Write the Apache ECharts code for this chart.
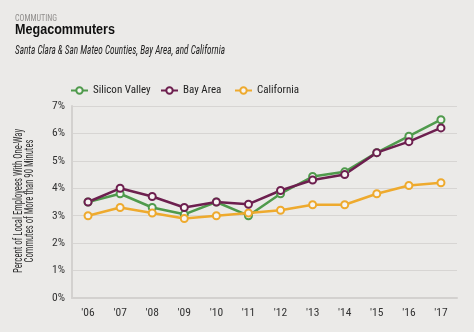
<!DOCTYPE html>
<html>
<head>
<meta charset="utf-8">
<script src="https://cdn.jsdelivr.net/npm/echarts@6/dist/echarts.min.js"></script>
<style>
  html, body { margin: 0; padding: 0; background: #ebeae8; }
  #chart { width: 474px; height: 332px; }
</style>
</head>
<body>
<div id="chart"></div>
<script>
// Share of local employees commuting more than 90 minutes one way (%)
const years = ["'06", "'07", "'08", "'09", "'10", "'11", "'12", "'13", "'14", "'15", "'16", "'17"];
const siliconValley = [3.5, 3.8, 3.3, 3.05, 3.5, 3.0, 3.8, 4.43, 4.6, 5.3, 5.9, 6.5];
const bayArea       = [3.5, 4.0, 3.7, 3.3, 3.5, 3.42, 3.92, 4.3, 4.5, 5.3, 5.7, 6.2];
const california    = [3.0, 3.3, 3.1, 2.9, 3.0, 3.1, 3.2, 3.4, 3.4, 3.8, 4.1, 4.2];

const kicker = 'COMMUTING';
const title = 'Megacommuters';
const subtitle = 'Santa Clara & San Mateo Counties, Bay Area, and California';
const yTitle = ['Percent of Local Employees With One-Way', 'Commutes of More than 90 Minutes'];

const cond = '"Roboto Condensed", "DejaVu Sans Condensed", sans-serif';
const colors = { sv: '#4f9a4c', ba: '#6d1f4f', ca: '#eeaa2e' };

// horizontal squeeze needed so a string set in `font` spans `width` pixels
const measureCtx = document.createElement('canvas').getContext('2d');
function squeeze(text, font, width) {
  measureCtx.font = font;
  return width / measureCtx.measureText(text).width;
}

function lineSeries(name, data, color) {
  return {
    name: name,
    type: 'line',
    data: data,
    symbol: 'circle',
    symbolSize: 7,
    showAllSymbol: true,
    lineStyle: { color: color, width: 2.5 },
    itemStyle: { color: '#f6f4f2', borderColor: color, borderWidth: 2 }
  };
}

function legendAt(name, left) {
  return {
    left: left,
    top: 85,
    padding: 0,
    itemWidth: 17,
    itemHeight: 8,
    itemGap: 4,
    textStyle: { fontFamily: cond, fontSize: 11, color: '#222' },
    data: [name]
  };
}

const titleFont = 'bold 14px "Liberation Sans", sans-serif';
const subFont = 'italic 12px ' + cond;
const kickerFont = '8.5px ' + cond;
const yTitleFont = '12px ' + cond;
const yScale = squeeze(yTitle[0], yTitleFont, 144);

const chart = echarts.init(document.getElementById('chart'));
chart.setOption({
  backgroundColor: '#ebeae8',
  animation: false,
  textStyle: { fontFamily: cond },
  graphic: [
    { type: 'text', x: 15, y: 18.5, scaleX: squeeze(kicker, kickerFont, 42),
      style: { text: kicker, font: kickerFont, fill: '#8f8d8b', verticalAlign: 'middle' } },
    { type: 'text', x: 15, y: 30, scaleX: squeeze(title, titleFont, 100),
      style: { text: title, font: titleFont, fill: '#111', verticalAlign: 'middle' } },
    { type: 'text', x: 15, y: 50.5, scaleX: squeeze(subtitle, subFont, 210),
      style: { text: subtitle, font: subFont, fill: '#222', verticalAlign: 'middle' } },
    { type: 'text', x: 24, y: 201, rotation: Math.PI / 2, scaleX: yScale,
      style: { text: yTitle.join('\n'), font: yTitleFont, lineHeight: 11, fill: '#333',
               align: 'center', verticalAlign: 'middle' } }
  ],
  legend: [
    legendAt('Silicon Valley', 70),
    legendAt('Bay Area', 160),
    legendAt('California', 234)
  ],
  grid: { left: 72, right: 17, top: 106, bottom: 34 },
  xAxis: {
    type: 'category',
    data: years,
    boundaryGap: true,
    axisLine: { lineStyle: { color: '#d3d1cf', width: 2 } },
    axisTick: { show: false },
    axisLabel: { color: '#333', fontSize: 11.5, fontFamily: cond, margin: 9 }
  },
  yAxis: {
    type: 'value',
    min: 0,
    max: 7,
    interval: 1,
    axisLine: { show: true, lineStyle: { color: '#d3d1cf', width: 2 } },
    axisTick: { show: false },
    splitLine: { lineStyle: { color: '#d7d5d3', width: 1 } },
    axisLabel: { color: '#333', fontSize: 11.5, fontFamily: cond, margin: 7, formatter: '{value}%' }
  },
  series: [
    lineSeries('Silicon Valley', siliconValley, colors.sv),
    lineSeries('California', california, colors.ca),
    lineSeries('Bay Area', bayArea, colors.ba)
  ]
});
</script>
</body>
</html>
